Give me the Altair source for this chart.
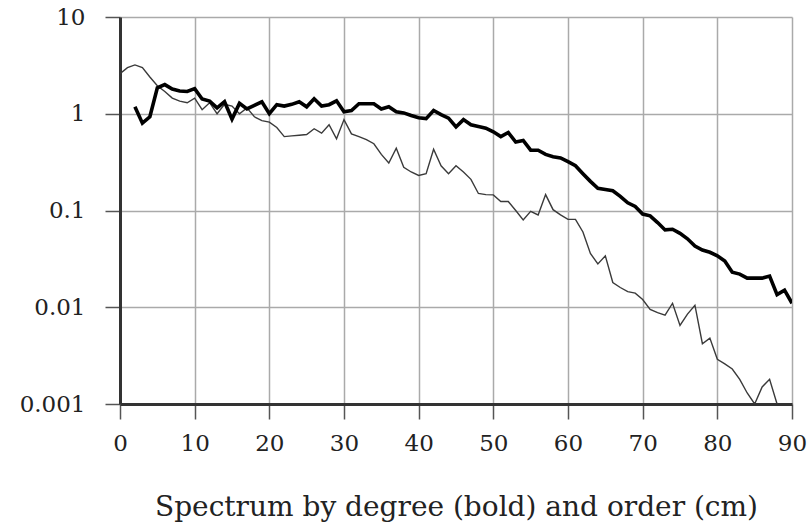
import altair as alt
import pandas as pd

degree_x = list(range(2, 91))
degree_y = [1.18, 0.80, 0.93, 1.85, 2.0, 1.8, 1.72, 1.7, 1.82, 1.42,
            1.35, 1.15, 1.33, 0.88, 1.28, 1.12, 1.22, 1.33, 1.0, 1.24,
            1.2, 1.25, 1.33, 1.18, 1.43, 1.2, 1.24, 1.36, 1.05, 1.08,
            1.27, 1.27, 1.27, 1.12, 1.18, 1.05, 1.02, 0.96, 0.91, 0.89,
            1.08, 0.98, 0.9, 0.73, 0.87, 0.77, 0.74, 0.71, 0.65, 0.58,
            0.64, 0.51, 0.53, 0.42, 0.42, 0.38, 0.36, 0.35, 0.32, 0.29,
            0.24, 0.2, 0.17, 0.165, 0.16, 0.14, 0.12, 0.11, 0.092, 0.088,
            0.075, 0.063, 0.064, 0.058, 0.051, 0.043, 0.039, 0.037, 0.034, 0.030,
            0.023, 0.022, 0.020, 0.020, 0.020, 0.021, 0.0135, 0.015, 0.011]

order_x = list(range(0, 89))
order_y = [2.6, 3.0, 3.2, 3.0, 2.4, 1.95, 1.7, 1.45, 1.35, 1.3,
           1.45, 1.1, 1.3, 1.0, 1.25, 1.2, 1.0, 1.15, 0.93, 0.85,
           0.82, 0.72, 0.58, 0.59, 0.6, 0.61, 0.7, 0.63, 0.77, 0.55,
           0.87, 0.62, 0.58, 0.54, 0.49, 0.38, 0.31, 0.44, 0.28, 0.25,
           0.23, 0.24, 0.43, 0.29, 0.24, 0.29, 0.25, 0.21, 0.15, 0.146,
           0.145, 0.124, 0.124, 0.1, 0.08, 0.098, 0.09, 0.146, 0.102, 0.09,
           0.081, 0.081, 0.06, 0.036, 0.028, 0.034, 0.018, 0.016, 0.0145, 0.014,
           0.012, 0.0095, 0.0088, 0.0083, 0.011, 0.0065, 0.0085, 0.0105, 0.0042, 0.0048,
           0.0029, 0.0026, 0.0023, 0.0018, 0.0013, 0.001, 0.0015, 0.0018, 0.001]

x_ticks = [0, 10, 20, 30, 40, 50, 60, 70, 80, 90]
y_ticks = [0.001, 0.01, 0.1, 1, 10]
title = "Spectrum by degree (bold) and order (cm)"

deg = pd.DataFrame({"x": degree_x, "y": degree_y})
ordr = pd.DataFrame({"x": order_x, "y": order_y})

FONT = "DejaVu Serif"

xenc = alt.X("x:Q", scale=alt.Scale(domain=[0, 90], nice=False),
             axis=alt.Axis(values=x_ticks, title=title, format="d",
                           labelFontSize=23, titleFontSize=28, labelFont=FONT, titleFont=FONT,
                           labelColor="#222", titleColor="#222", titleFontWeight="normal",
                           labelFlush=False, labelOverlap=False,
                           tickSize=15, tickWidth=1.5, tickColor="#555",
                           labelPadding=13, titlePadding=38,
                           domainColor="#333", domainWidth=3,
                           gridColor="#aaaaaa", gridWidth=1.5))
yenc = alt.Y("y:Q", scale=alt.Scale(type="log", domain=[0.001, 10], nice=False),
             axis=alt.Axis(values=y_ticks, title=None, format="~g",
                           labelFontSize=23, labelFont=FONT, labelColor="#222",
                           labelFlush=False, labelOverlap=False,
                           tickSize=15, tickWidth=1.5, tickColor="#555",
                           labelPadding=20,
                           domainColor="#333", domainWidth=3,
                           gridColor="#aaaaaa", gridWidth=1.5))

thin = alt.Chart(ordr).mark_line(color="#3a3a3a", strokeWidth=1.4, clip=True).encode(x=xenc, y=yenc)
bold = alt.Chart(deg).mark_line(color="#000000", strokeWidth=3.6, clip=True).encode(x=xenc, y=yenc)

chart = alt.layer(thin, bold).properties(
    width=672, height=387,
    autosize=alt.AutoSizeParams(type="none"),
    padding={"left": 120, "top": 17, "right": 20, "bottom": 121},
    background="white",
).configure_view(stroke=None)

chart.save("out.html", embed_options={"renderer": "svg", "actions": False})
